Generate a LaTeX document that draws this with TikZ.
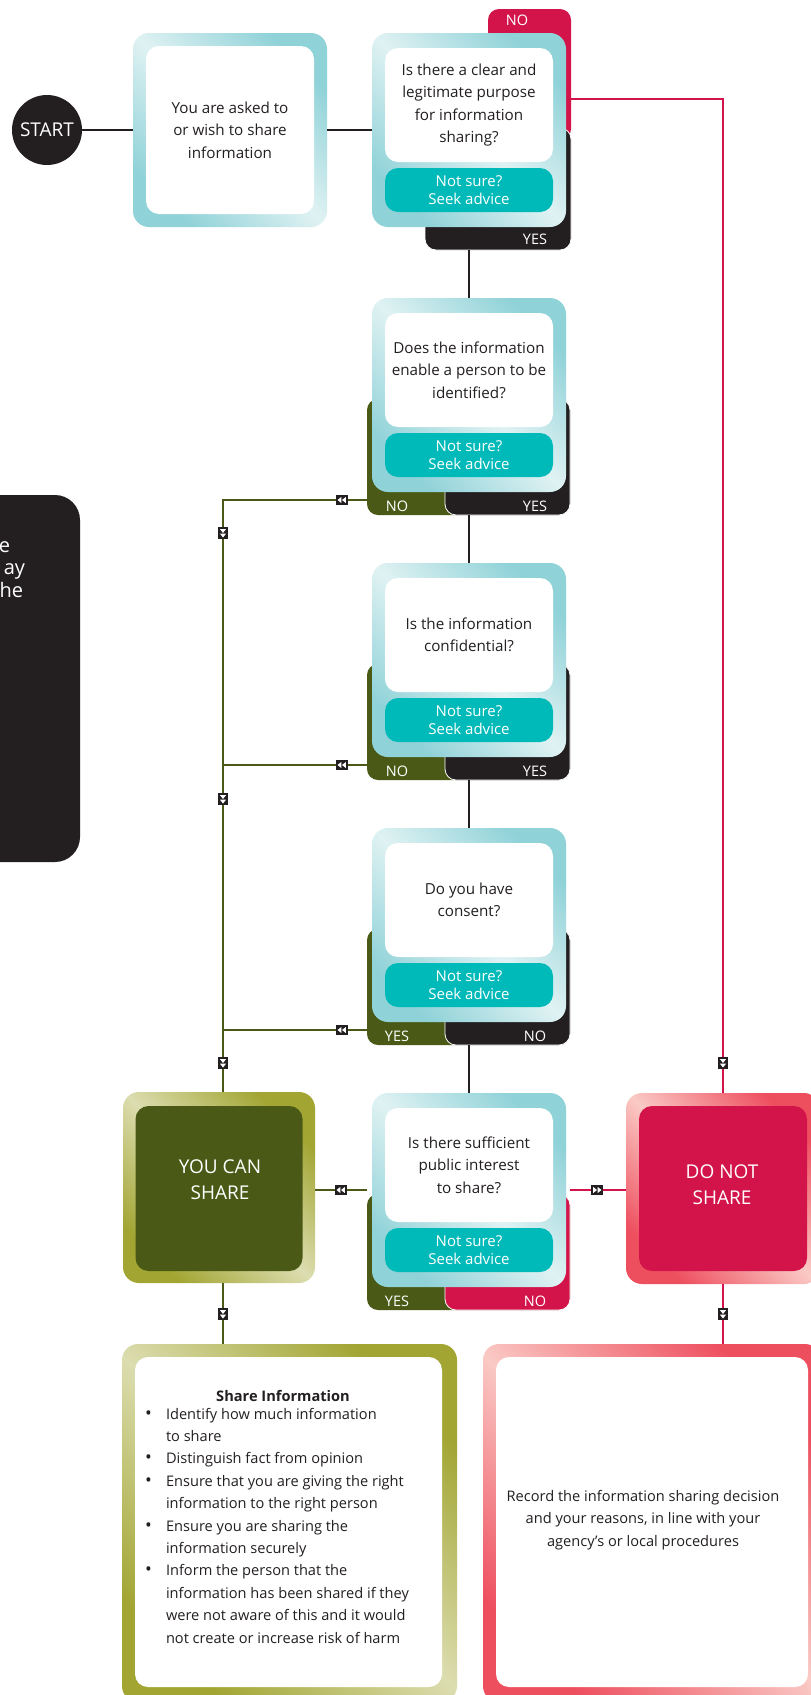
\documentclass[tikz,border=0pt]{standalone}
\usepackage{fontspec}
\setmainfont{Open Sans}
\definecolor{ink}{HTML}{231F20}
\definecolor{tealdark}{HTML}{8FD2D8}
\definecolor{teallight}{HTML}{E0F2F3}
\definecolor{advice}{HTML}{00B9B9}
\definecolor{olive}{HTML}{4A5A16}
\definecolor{olivedark}{HTML}{A2A532}
\definecolor{olivelight}{HTML}{DCDDB0}
\definecolor{crimson}{HTML}{D3144A}
\definecolor{pinkdark}{HTML}{EE4F5F}
\definecolor{pinklight}{HTML}{FACAC5}
\newcommand\bodyfont{\fontsize{15.2}{22.4}\selectfont}
\newcommand\listfont{\fontsize{14.6}{22.4}\selectfont}
\newcommand\bul{{\fontsize{18}{22.4}\selectfont\textbullet}}
\tikzset{
  every node/.style={inner sep=0pt, outer sep=0pt},
  frameteal/.style={rectangle, rounded corners=16pt, minimum width=194pt, minimum height=194pt,
    top color=tealdark, bottom color=tealdark, middle color=teallight, shading angle=-45},
  frameolive/.style={rectangle, rounded corners=16pt,
    top color=olivedark, bottom color=olivedark, middle color=olivelight, shading angle=-45},
  framepink/.style={rectangle, rounded corners=16pt,
    top color=pinkdark, bottom color=pinkdark, middle color=pinklight, shading angle=-45},
  whitebox/.style={rectangle, fill=white, rounded corners=13pt, minimum width=168pt,
    align=center, font=\bodyfont, text=ink},
  advicebox/.style={rectangle, fill=advice, rounded corners=13pt, minimum width=168pt,
    minimum height=44pt, align=center, text=white, font=\fontsize{15}{17.5}\selectfont},
  tabbox/.style={rectangle, rounded corners=11pt, minimum height=116pt},
  tablabel/.style={text=white, font=\fontsize{14.5}{16}\selectfont},
  bigtext/.style={text=white, align=center, font=\fontsize{19}{26}\selectfont},
  sidetext/.style={anchor=base east, text=white, font=\fontsize{20}{23}\selectfont},
  blk/.style={draw=ink, line width=2.6pt},
  grnl/.style={draw=olive, line width=2.6pt},
  redl/.style={draw=crimson, line width=2.4pt},
  flowmk/.pic={
    \fill[ink] (-6,-5) rectangle (6,5);
    \fill[white] (-4.5,0) -- (-0.7,-3) -- (-0.7,3) -- cycle;
    \fill[white] (0,0) -- (3.8,-3) -- (3.8,3) -- cycle;
  }
}
\newcommand\decision[7]{%
  \node[tabbox, fill=#4, minimum width=203pt] (#1l) at (468.5,#2+159) {};
  \node[tabbox, fill=#6, draw=white, line width=0.8pt, minimum width=125pt] (#1r) at (507.5,#2+159) {};
  \node[tablabel] (#1ln) at (397,#2+208) {#5};
  \node[tablabel] (#1rn) at (535,#2+208) {#7};
  \node[frameteal] (#1o) at (469,#2+97) {};
  \node[whitebox, minimum height=114pt] (#1) at (469,#2+72) {#3};
  \node[advicebox] (#1a) at (469,#2+157) {Not sure?\\Seek advice};
}
\begin{document}
\begin{tikzpicture}[x=1pt,y=-1pt]
\useasboundingbox (0,0) rectangle (811,1695);
\fill[white] (0,0) rectangle (811,1695);

% side panel (cut off at the left)
\node[rectangle, fill=ink, rounded corners=25pt, minimum width=140pt, minimum height=367pt] (side) at (10,678.5) {};
\node[sidetext] (sidea) at (10,552) {e};
\node[sidetext] (sideb) at (25,574) {ay};
\node[sidetext] (sidec) at (23,597) {he};

% start and first box
\node[circle, fill=ink, minimum size=70pt, text=white, font=\fontsize{19}{22}\selectfont] (start) at (47,130) {START};
\node[frameteal] (b1o) at (230,130) {};
\node[whitebox, minimum height=168pt] (b1) at (230,130) {You are asked to\\or wish to share\\information};

% first decision (tabs above and below)
\node[tabbox, fill=crimson, minimum width=83pt, minimum height=131pt] (q1tn) at (529.5,74.5) {};
\node[tabbox, fill=ink, draw=white, line width=0.8pt, minimum width=146pt, minimum height=122pt] (q1tb) at (498,189) {};
\node[tablabel] (q1nl) at (517,20) {NO};
\node[tablabel] (q1yl) at (535,239) {YES};
\node[frameteal] (q1o) at (469,130) {};
\node[whitebox, minimum height=114pt] (q1) at (469,105) {Is there a clear and\\legitimate purpose\\for information\\sharing?};
\node[advicebox] (q1a) at (469,190) {Not sure?\\Seek advice};

\decision{q2}{298}{Does the information\\enable a person to be\\identified?}{olive}{NO}{ink}{YES}
\decision{q3}{563}{Is the information\\confidential?}{olive}{NO}{ink}{YES}
\decision{q4}{828}{Do you have\\consent?}{olive}{YES}{ink}{NO}
\decision{q5}{1093}{Is there sufficient\\public interest\\to share?}{olive}{YES}{crimson}{NO}

% outcomes
\node[frameolive, minimum width=192pt, minimum height=191pt] (ycso) at (219,1187.5) {};
\node[rectangle, fill=olive, rounded corners=13pt, minimum width=167pt, minimum height=165pt] (ycs) at (219,1188.5) {};
\node[bigtext] (ycst) at (220,1180) {YOU CAN\\SHARE};
\node[framepink, minimum width=194pt, minimum height=191pt] (dnso) at (723,1188.5) {};
\node[rectangle, fill=crimson, rounded corners=13pt, minimum width=168pt, minimum height=165pt] (dns) at (723,1188.5) {};
\node[bigtext] (dnst) at (722,1185) {DO NOT\\SHARE};

% bottom boxes
\node[frameolive, minimum width=335pt, minimum height=358pt] (shareo) at (289.5,1523) {};
\node[rectangle, fill=white, rounded corners=13pt, minimum width=307pt, minimum height=330pt] (share) at (288.5,1522) {};
\node[font=\bfseries\listfont, text=ink] (sharet) at (283,1396) {Share Information};
\node[anchor=base west, font=\listfont, text=ink] (sharel) at (145,1419) {%
\begin{tabular}[t]{@{}p{21pt}@{}l@{}}
\bul & Identify how much information\\
 & to share\\
\bul & Distinguish fact from opinion\\
\bul & Ensure that you are giving the right\\
 & information to the right person\\
\bul & Ensure you are sharing the\\
 & information securely\\
\bul & Inform the person that the\\
 & information has been shared if they\\
 & were not aware of this and it would\\
 & not create or increase risk of harm
\end{tabular}};
\node[framepink, minimum width=338pt, minimum height=358pt] (reco) at (652,1523) {};
\node[rectangle, fill=white, rounded corners=13pt, minimum width=312pt, minimum height=330pt] (rec) at (652,1522) {};
\node[align=center, font=\fontsize{14.6}{22.6}\selectfont, text=ink] (rect) at (643,1520) {Record the information sharing decision\\and your reasons, in line with your\\agency’s or local procedures};

% connectors
\coordinate (redturn) at (723,99);
\coordinate (g2) at (223,500);
\coordinate (g3) at (223,765);
\coordinate (g4) at (223,1030);
\draw[blk] (start) -- (b1o);
\draw[blk] (b1o) -- (q1o);
\draw[redl] (q1tn.east |- redturn) -- (redturn) -- (redturn |- dnso.north);
\draw[blk] (q1o.south |- q1tb.south) -- (q2o.north);
\draw[blk] (q2o.south |- q2l.south) -- (q3o.north);
\draw[blk] (q3o.south |- q3l.south) -- (q4o.north);
\draw[blk] (q4o.south |- q4l.south) -- (q5o.north);
\draw[grnl] (q2l.west |- g2) -- (g2) -- (g2 |- ycso.north);
\draw[grnl] (q3l.west |- g3) -- (g3);
\draw[grnl] (q4l.west |- g4) -- (g4);
\draw[grnl] (q5l.west |- q5o.center) -- (ycso.east |- q5o.center);
\draw[redl] (q5r.east |- q5o.center) -- (dnso.west |- q5o.center);
\draw[grnl] (g2 |- ycso.south) -- (g2 |- shareo.north);
\draw[redl] (redturn |- dnso.south) -- (redturn |- reco.north);

% direction markers
\pic at (342,500) {flowmk};
\pic at (342,765) {flowmk};
\pic at (342,1030) {flowmk};
\pic at (341,1190) {flowmk};
\pic[rotate=180] at (597,1190) {flowmk};
\pic[rotate=90] at (223,533) {flowmk};
\pic[rotate=90] at (223,799) {flowmk};
\pic[rotate=90] at (223,1063) {flowmk};
\pic[rotate=90] at (723,1063) {flowmk};
\pic[rotate=90] at (223,1314) {flowmk};
\pic[rotate=90] at (723,1314) {flowmk};
\end{tikzpicture}
\end{document}
